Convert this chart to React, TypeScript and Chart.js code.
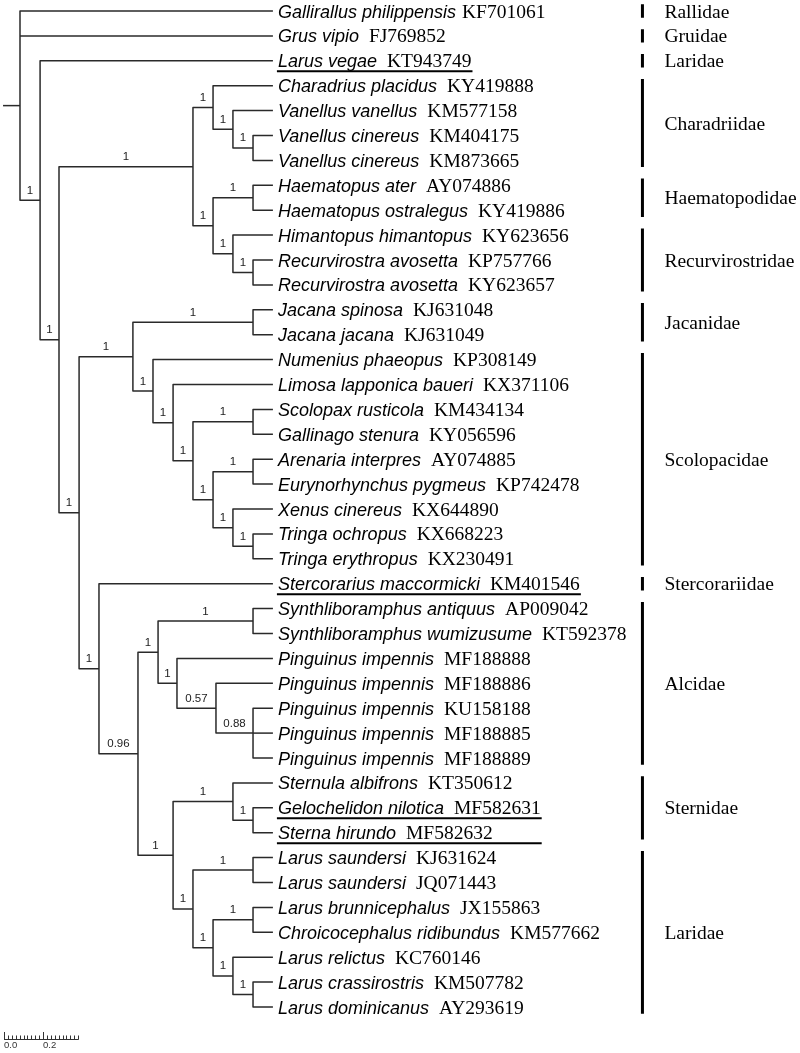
import React, { useEffect, useRef } from 'react';
import { Chart, registerables } from 'chart.js';

Chart.register(...registerables);

// ---------------- DATA ----------------
const leafSpecies = [
  'Gallirallus philippensis', 'Grus vipio', 'Larus vegae', 'Charadrius placidus',
  'Vanellus vanellus', 'Vanellus cinereus', 'Vanellus cinereus', 'Haematopus ater',
  'Haematopus ostralegus', 'Himantopus himantopus', 'Recurvirostra avosetta', 'Recurvirostra avosetta',
  'Jacana spinosa', 'Jacana jacana', 'Numenius phaeopus', 'Limosa lapponica baueri',
  'Scolopax rusticola', 'Gallinago stenura', 'Arenaria interpres', 'Eurynorhynchus pygmeus',
  'Xenus cinereus', 'Tringa ochropus', 'Tringa erythropus', 'Stercorarius maccormicki',
  'Synthliboramphus antiquus', 'Synthliboramphus wumizusume', 'Pinguinus impennis', 'Pinguinus impennis',
  'Pinguinus impennis', 'Pinguinus impennis', 'Pinguinus impennis', 'Sternula albifrons',
  'Gelochelidon nilotica', 'Sterna hirundo', 'Larus saundersi', 'Larus saundersi',
  'Larus brunnicephalus', 'Chroicocephalus ridibundus', 'Larus relictus', 'Larus crassirostris',
  'Larus dominicanus',
];
const leafAccessions = [
  'KF701061', 'FJ769852', 'KT943749', 'KY419888',
  'KM577158', 'KM404175', 'KM873665', 'AY074886',
  'KY419886', 'KY623656', 'KP757766', 'KY623657',
  'KJ631048', 'KJ631049', 'KP308149', 'KX371106',
  'KM434134', 'KY056596', 'AY074885', 'KP742478',
  'KX644890', 'KX668223', 'KX230491', 'KM401546',
  'AP009042', 'KT592378', 'MF188888', 'MF188886',
  'KU158188', 'MF188885', 'MF188889', 'KT350612',
  'MF582631', 'MF582632', 'KJ631624', 'JQ071443',
  'JX155863', 'KM577662', 'KC760146', 'KM507782',
  'AY293619',
];
const tipDepth = 1.297;
const underlineGroups = [[2], [23], [32, 33]];

const nodeNames = [
  'root', 'A', 'B', 'C', 'E', 'G', 'H', 'F', 'I', 'J', 'K',
  'D', 'Ln', 'Jac', 'N', 'O', 'P', 'Q', 'R', 'S', 'T', 'U',
  'M', 'V', 'W', 'Syn', 'Y', 'Z', 'AA', 'X', 'St', 'AC', 'AB', 'LS', 'AD', 'AE', 'AF', 'AG',
];
const nodeDepths = [
  0, 0.103, 0.2, 0.887, 0.99, 1.092, 1.195, 0.99, 1.195, 1.092, 1.195,
  0.303, 0.579, 1.195, 0.682, 0.785, 0.887, 1.195, 0.99, 1.195, 1.092, 1.195,
  0.405, 0.605, 0.708, 1.195, 0.805, 1.005, 1.195, 0.785, 1.092, 1.195, 0.887, 1.195, 0.99, 1.195, 1.092, 1.195,
];
const nodeSupport = [
  '', '1', '1', '1', '1', '1', '1', '1', '1', '1', '1',
  '1', '1', '1', '1', '1', '1', '1', '1', '1', '1', '1',
  '1', '0.96', '1', '1', '1', '0.57', '0.88', '1', '1', '1', '1', '1', '1', '1', '1', '1',
];
const nodeChildren: (number | string)[][] = [
  [0, 1, 'A'], [2, 'B'], ['C', 'D'], ['E', 'F'], [3, 'G'], [4, 'H'], [5, 6], ['I', 'J'], [7, 8], [9, 'K'], [10, 11],
  ['Ln', 'M'], ['Jac', 'N'], [12, 13], [14, 'O'], [15, 'P'], ['Q', 'R'], [16, 17], ['S', 'T'], [18, 19], [20, 'U'], [21, 22],
  [23, 'V'], ['W', 'X'], ['Syn', 'Y'], [24, 25], [26, 'Z'], [27, 'AA'], [28, 29, 30], ['St', 'AB'], [31, 'AC'], [32, 33],
  ['LS', 'AD'], [34, 35], ['AE', 'AF'], [36, 37], [38, 'AG'], [39, 40],
];
const rootStubStart = -0.087;

const familyNames = [
  'Rallidae', 'Gruidae', 'Laridae', 'Charadriidae', 'Haematopodidae', 'Recurvirostridae',
  'Jacanidae', 'Scolopacidae', 'Stercorariidae', 'Alcidae', 'Sternidae', 'Laridae',
];
const familyFirst = [0, 1, 2, 3, 7, 9, 12, 14, 23, 24, 31, 34];
const familyLast = [0, 1, 2, 6, 8, 11, 13, 22, 23, 30, 33, 40];
const familyBarX = 3.192;

const scaleTicks = [0, 0.02, 0.04, 0.06, 0.08, 0.1, 0.12, 0.14, 0.16, 0.18, 0.2,
  0.22, 0.24, 0.26, 0.28, 0.3, 0.32, 0.34, 0.36, 0.38];
const scaleLabels = ['0.0', '0.2'];
const scaleLabelValues = [0, 0.2];

// ---------------- STYLE ----------------
const SANS = "'Liberation Sans', Arial, sans-serif";
const SERIF = "'Liberation Serif', 'Times New Roman', serif";
const LINE = '#2a2a2a';
const W = 800;
const H = 1053;

export default function App() {
  const ref = useRef<HTMLCanvasElement>(null);

  useEffect(() => {
    const canvas = ref.current!;
    const idx = new Map<string, number>(nodeNames.map((n, i) => [n, i] as [string, number]));
    const parentDepth: Record<string, number> = {};
    nodeNames.forEach((n, i) =>
      nodeChildren[i].forEach((c) => {
        if (typeof c === 'string') parentDepth[c] = nodeDepths[i];
      })
    );
    const yOf = (c: number | string): number => {
      if (typeof c === 'number') return c;
      const ch = nodeChildren[idx.get(c)!];
      return (yOf(ch[0]) + yOf(ch[ch.length - 1])) / 2;
    };
    const xOf = (c: number | string): number =>
      typeof c === 'number' ? tipDepth : nodeDepths[idx.get(c)!];

    const lineStyle = {
      type: 'scatter',
      showLine: true,
      pointRadius: 0,
      pointHoverRadius: 0,
      borderColor: LINE,
      borderWidth: 1.5,
      borderJoinStyle: 'round',
      borderCapStyle: 'butt',
      fill: false,
      tension: 0,
    };
    const datasets: any[] = [];
    nodeNames.forEach((n, i) => {
      const ch = nodeChildren[i];
      const nx = nodeDepths[i];
      const first = ch[0];
      const last = ch[ch.length - 1];
      datasets.push({
        ...lineStyle,
        data: [
          { x: xOf(first), y: yOf(first) },
          { x: nx, y: yOf(first) },
          { x: nx, y: yOf(last) },
          { x: xOf(last), y: yOf(last) },
        ],
      });
      ch.slice(1, -1).forEach((c) =>
        datasets.push({ ...lineStyle, data: [{ x: nx, y: yOf(c) }, { x: xOf(c), y: yOf(c) }] })
      );
    });
    const rootY = yOf('root');
    datasets.push({ ...lineStyle, data: [{ x: rootStubStart, y: rootY }, { x: 0, y: rootY }] });
    const pad = 0.27;
    familyNames.forEach((f, i) => {
      datasets.push({
        ...lineStyle,
        borderColor: '#000',
        borderWidth: 3,
        borderJoinStyle: 'miter',
        data: [
          { x: familyBarX, y: familyFirst[i] - pad },
          { x: familyBarX, y: familyLast[i] + pad },
        ],
      });
    });

    const textPlugin = {
      id: 'treeText',
      afterDatasetsDraw(chart: any) {
        const ctx = chart.ctx as CanvasRenderingContext2D;
        const xs = chart.scales.x;
        const ys = chart.scales.y;
        const area = chart.chartArea;
        ctx.save();
        // leaf labels
        const tipPx = xs.getPixelForValue(tipDepth);
        const x0 = tipPx + 5;
        const ends: number[] = [];
        ctx.textAlign = 'left';
        ctx.textBaseline = 'alphabetic';
        ctx.fillStyle = '#000';
        leafSpecies.forEach((sp, i) => {
          const py = ys.getPixelForValue(i);
          ctx.font = `italic 18px ${SANS}`;
          ctx.fillText(sp, x0, py + 6.5);
          const w = ctx.measureText(sp).width;
          const gap = i === 0 ? 6 : 10;
          ctx.font = `19.5px ${SERIF}`;
          ctx.fillText(leafAccessions[i], x0 + w + gap, py + 6.5);
          ends[i] = x0 + w + gap + ctx.measureText(leafAccessions[i]).width;
        });
        // underlines
        ctx.strokeStyle = '#000';
        ctx.lineWidth = 2;
        underlineGroups.forEach((g) => {
          const end = Math.max(...g.map((i) => ends[i]));
          g.forEach((i) => {
            const py = ys.getPixelForValue(i) + 10.5;
            ctx.beginPath();
            ctx.moveTo(x0 - 1, py);
            ctx.lineTo(end + 1, py);
            ctx.stroke();
          });
        });
        // support values
        ctx.font = `11.5px ${SANS}`;
        ctx.fillStyle = '#222';
        ctx.textAlign = 'center';
        nodeNames.forEach((n, i) => {
          if (!nodeSupport[i]) return;
          const mid = (parentDepth[n] + nodeDepths[i]) / 2;
          const px = xs.getPixelForValue(mid);
          const py = ys.getPixelForValue(yOf(n));
          ctx.fillText(nodeSupport[i], px, py - 6.5);
        });
        // family labels
        ctx.font = `19.5px ${SERIF}`;
        ctx.fillStyle = '#000';
        ctx.textAlign = 'left';
        const barPx = xs.getPixelForValue(familyBarX);
        familyNames.forEach((f, i) => {
          const py = ys.getPixelForValue((familyFirst[i] + familyLast[i]) / 2);
          ctx.fillText(f, barPx + 22, py + 6.5);
        });
        // scale bar
        const ox = area.left + 4;
        const oy = area.bottom - 14;
        const p0 = xs.getPixelForValue(0);
        const tx = (v: number) => ox + (xs.getPixelForValue(v) - p0);
        ctx.strokeStyle = '#333';
        ctx.lineWidth = 1;
        ctx.beginPath();
        ctx.moveTo(ox, oy + 0.5);
        ctx.lineTo(tx(scaleTicks[scaleTicks.length - 1]) + 0.5, oy + 0.5);
        scaleTicks.forEach((v) => {
          const major = scaleLabelValues.some((m) => Math.abs(m - v) < 1e-9);
          const px = Math.round(tx(v)) + 0.5;
          ctx.moveTo(px, oy + 0.5);
          ctx.lineTo(px, oy - (major ? 7 : 3.5));
        });
        ctx.stroke();
        ctx.font = `9.5px ${SANS}`;
        ctx.fillStyle = '#333';
        ctx.textAlign = 'left';
        scaleLabels.forEach((l, i) => {
          ctx.fillText(l, tx(scaleLabelValues[i]), oy + 8.5);
        });
        ctx.restore();
      },
    };

    const chart = new Chart(canvas, {
      type: 'scatter',
      data: { datasets },
      options: {
        responsive: false,
        maintainAspectRatio: false,
        animation: false,
        devicePixelRatio: 1,
        layout: { padding: 0 },
        events: [],
        plugins: { legend: { display: false }, tooltip: { enabled: false } },
        scales: {
          x: { type: 'linear', display: false, min: -20 / 195, max: 780 / 195 },
          y: { type: 'linear', display: false, reverse: true, min: -11 / 24.9, max: (H - 11) / 24.9 },
        },
      } as any,
      plugins: [textPlugin],
    });
    return () => chart.destroy();
  }, []);

  return (
    <div style={{ position: 'absolute', left: 0, top: 0, width: W, height: H, background: '#fff' }}>
      <canvas ref={ref} width={W} height={H} style={{ display: 'block' }} />
    </div>
  );
}
